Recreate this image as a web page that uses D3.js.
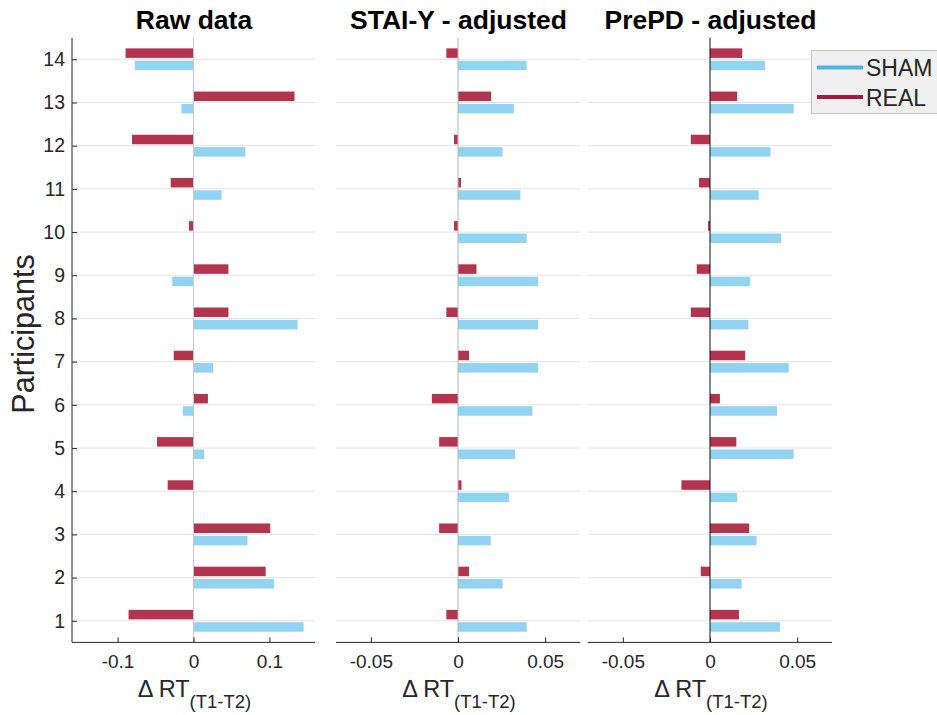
<!DOCTYPE html>
<html>
<head>
<meta charset="utf-8">
<script src="https://cdn.jsdelivr.net/npm/d3@7"></script>
<style>
  html, body { margin: 0; padding: 0; background: #fff; }
  svg { display: block; font-family: "Liberation Sans", Arial, Helvetica, sans-serif; }
</style>
</head>
<body>
<svg id="chart" width="937" height="715"></svg>
<script>
// ---------- DATA ----------
const participants = [1,2,3,4,5,6,7,8,9,10,11,12,13,14];
const panelTitles = ["Raw data", "STAI-Y - adjusted", "PrePD - adjusted"];
const seriesNames = ["SHAM", "REAL"];

const rawReal   = [-0.0855, 0.095, 0.101, -0.034, -0.048, 0.019, -0.026, 0.046, 0.046, -0.006, -0.030, -0.081, 0.133, -0.0895];
const rawSham   = [0.145, 0.106, 0.071, 0, 0.014, -0.014, 0.026, 0.137, -0.028, 0, 0.037, 0.068, -0.016, -0.077];
const staiReal  = [-0.0067, 0.0063, -0.0108, 0.002, -0.0108, -0.015, 0.0063, -0.0067, 0.0106, -0.0023, 0.0017, -0.0023, 0.019, -0.0067];
const staiSham  = [0.0394, 0.0256, 0.0188, 0.0292, 0.0327, 0.0427, 0.046, 0.046, 0.046, 0.0394, 0.0358, 0.0256, 0.032, 0.0394];
const prepdReal = [0.0166, -0.0053, 0.0225, -0.0164, 0.0151, 0.0057, 0.0202, -0.011, -0.0076, -0.0011, -0.0063, -0.011, 0.0156, 0.0185];
const prepdSham = [0.0401, 0.0181, 0.0267, 0.0156, 0.048, 0.0385, 0.0452, 0.022, 0.0229, 0.0408, 0.0279, 0.0347, 0.048, 0.0315];

const rawTicks = [-0.1, 0, 0.1];
const rawTickLabels = ["-0.1", "0", "0.1"];
const adjTicks = [-0.05, 0, 0.05];
const adjTickLabels = ["-0.05", "0", "0.05"];
const yTicks = participants;

// ---------- LAYOUT ----------
const svg = d3.select("#chart");
const yTop = 37.7, yBot = 642.4;
const y = d3.scaleLinear().domain([0.5, 14.5]).range([yBot, yTop]);
const barOff = 0.143, barH = 0.22;
const colSham = "#92d3f1", colReal = "#b3344f";
const legSham = "#4fb3e6", legReal = "#9a1f40";
const txt = "#262626";

const panels = [
  { title: panelTitles[0], x0: 72,  x1: 315, domain: [-0.16, 0.16], ticks: rawTicks, labels: rawTickLabels, real: rawReal, sham: rawSham, leftAxis: true, zeroCol: "#c8c8c8" },
  { title: panelTitles[1], x0: 336, x1: 580, domain: [-0.07, 0.07], ticks: adjTicks, labels: adjTickLabels, real: staiReal, sham: staiSham, leftAxis: false, zeroCol: "#b4b4b4" },
  { title: panelTitles[2], x0: 588, x1: 832, domain: [-0.07, 0.07], ticks: adjTicks, labels: adjTickLabels, real: prepdReal, sham: prepdSham, leftAxis: false, zeroCol: "#111" }
];

panels.forEach(p => {
  const x = d3.scaleLinear().domain(p.domain).range([p.x0, p.x1]);
  const g = svg.append("g");

  // grid
  g.selectAll("line.grid").data(yTicks).enter().append("line")
    .attr("x1", p.x0).attr("x2", p.x1)
    .attr("y1", d => y(d)).attr("y2", d => y(d))
    .attr("stroke", "#e3e3e3").attr("stroke-width", 1);

  // bars
  const rows = participants.map((pp, i) => ({ p: pp, real: p.real[i], sham: p.sham[i] }));
  const hPx = y(0) - y(barH);
  g.selectAll("rect.real").data(rows).enter().append("rect")
    .attr("x", d => Math.min(x(0), x(d.real)))
    .attr("width", d => Math.abs(x(d.real) - x(0)))
    .attr("y", d => y(d.p + barOff) - hPx / 2)
    .attr("height", hPx)
    .attr("fill", colReal);
  g.selectAll("rect.sham").data(rows).enter().append("rect")
    .attr("x", d => Math.min(x(0), x(d.sham)))
    .attr("width", d => Math.abs(x(d.sham) - x(0)))
    .attr("y", d => y(d.p - barOff) - hPx / 2)
    .attr("height", hPx)
    .attr("fill", colSham);

  // zero line
  g.append("line").attr("x1", x(0)).attr("x2", x(0)).attr("y1", yTop).attr("y2", yBot)
    .attr("stroke", p.zeroCol).attr("stroke-width", 1);

  // bottom axis
  const xa = d3.axisBottom(x).tickValues(p.ticks).tickFormat((d, i) => p.labels[i]).tickSize(-5).tickPadding(12);
  const ax = g.append("g").attr("transform", `translate(0,${yBot})`).call(xa);
  ax.select(".domain").attr("stroke", txt).attr("d", `M${p.x0},0H${p.x1}`);
  ax.selectAll(".tick line").attr("stroke", txt);
  ax.selectAll(".tick text").attr("fill", txt).attr("font-size", 19).attr("font-family", "Liberation Sans, Arial, sans-serif");

  // left axis
  if (p.leftAxis) {
    const ya = d3.axisLeft(y).tickValues(yTicks).tickFormat(d3.format("d")).tickSize(-5).tickPadding(7);
    const ay = g.append("g").attr("transform", `translate(${p.x0},0)`).call(ya);
    ay.select(".domain").attr("stroke", txt).attr("d", `M0,${yTop}V${yBot}`);
    ay.selectAll(".tick line").attr("stroke", txt);
    ay.selectAll(".tick text").attr("fill", txt).attr("font-size", 19.5).attr("font-family", "Liberation Sans, Arial, sans-serif");
  }

  // title
  const cx = (p.x0 + p.x1) / 2;
  svg.append("text").attr("x", cx + 0.5).attr("y", 28.5).attr("text-anchor", "middle")
    .attr("font-weight", "bold").attr("font-size", 26.5).attr("fill", "#000").text(p.title);

  // x label
  const xl = svg.append("text").attr("x", cx + 1).attr("y", 697).attr("text-anchor", "middle")
    .attr("font-size", 23.5).attr("fill", txt);
  xl.append("tspan").text("Δ RT");
  xl.append("tspan").attr("font-size", 18.5).attr("dy", 11).text("(T1-T2)");
});

// y label
svg.append("text").attr("transform", "translate(34,334) rotate(-90)").attr("text-anchor", "middle")
  .attr("font-size", 30.5).attr("fill", txt).text("Participants");

// legend
const lg = svg.append("g");
lg.append("rect").attr("x", 811.5).attr("y", 50.5).attr("width", 140).attr("height", 63)
  .attr("fill", "#f0f0f0").attr("stroke", "#c4c4c4").attr("stroke-width", 1);
const legItems = [{ name: seriesNames[0], col: legSham, yy: 67.5 }, { name: seriesNames[1], col: legReal, yy: 97 }];
legItems.forEach(it => {
  lg.append("line").attr("x1", 817).attr("x2", 863).attr("y1", it.yy).attr("y2", it.yy)
    .attr("stroke", it.col).attr("stroke-width", 4);
  lg.append("text").attr("x", 866).attr("y", it.yy + 8.5).attr("font-size", 23).attr("fill", txt).text(it.name);
});
</script>
</body>
</html>
